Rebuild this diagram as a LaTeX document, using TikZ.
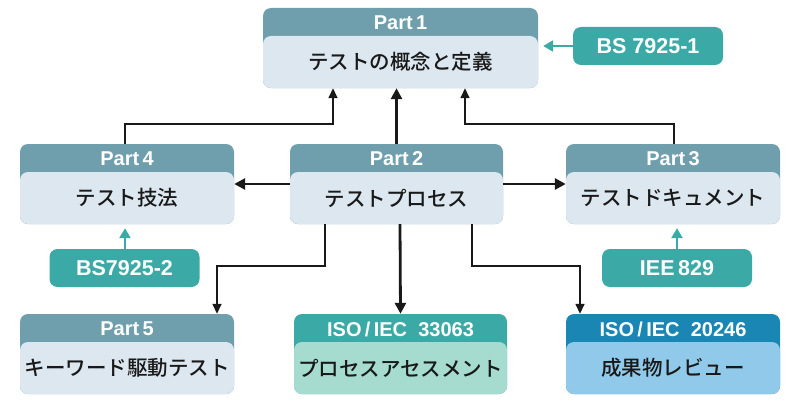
\documentclass[tikz,border=0pt]{standalone}
\usepackage{fontspec}
\setmainfont{Liberation Sans}
\newfontfamily\jp{Noto Sans CJK JP Medium}
\usetikzlibrary{arrows.meta}
\definecolor{hdr}{HTML}{6F9EAC}
\definecolor{bdy}{HTML}{DCE7F0}
\definecolor{tl}{HTML}{3BA9A6}
\definecolor{tlb}{HTML}{A6DCD0}
\definecolor{bl}{HTML}{1A86B4}
\definecolor{blb}{HTML}{90C9E9}
\tikzset{
  outerbox/.style={rounded corners=8pt, inner sep=0pt, minimum height=80pt},
  bodybox/.style={rounded corners=8pt, inner sep=0pt, minimum height=52pt, font=\jp\fontsize{20.5}{23}\selectfont, text=black!90},
  hdrtext/.style={inner sep=0pt, text=white, font=\bfseries\fontsize{20}{22}\selectfont},
  stdbox/.style={fill=tl, rounded corners=8pt, inner sep=0pt, minimum width=150pt, minimum height=38pt, text=white, font=\bfseries\fontsize{21.5}{24}\selectfont},
  thickarr/.style={line width=2.8pt, black!90, -{Triangle[length=11pt,width=11pt]}},
  thinarr/.style={line width=1.5pt, black!90, -{Triangle[length=10pt,width=9pt]}},
  stdarr/.style={line width=2.4pt, tl, -{Triangle[length=10pt,width=11pt]}},
}
\newcommand\pbox[8]{%
  \node[outerbox, fill=#5, minimum width=#4pt] (#1) at (#2,#3+40) {};
  \node[bodybox, fill=#6, minimum width=#4pt] (#1b) at (#2,#3+54) {#8};
  \node[hdrtext] (#1h) at (#2,#3+15) {#7};
}
\begin{document}
\begin{tikzpicture}[x=1pt,y=-1pt]
\useasboundingbox (0,0) rectangle (800,404);
\pbox{p1}{400.5}{8}{275}{hdr}{bdy}{Part\,1}{テストの概念と定義}
\pbox{p4}{127}{144}{214}{hdr}{bdy}{Part\,4}{テスト技法}
\pbox{p2}{396.5}{144}{213}{hdr}{bdy}{Part\,2}{テストプロセス}
\pbox{p3}{673}{144}{214}{hdr}{bdy}{Part\,3}{テストドキュメント}
\pbox{p5}{127}{314}{214}{hdr}{bdy}{Part\,5}{キーワード駆動テスト}
\pbox{i1}{400.5}{314}{213}{tl}{tlb}{ISO\,/\,IEC\ \ 33063}{プロセスアセスメント}
\pbox{i2}{673}{314}{214}{bl}{blb}{ISO\,/\,IEC\ \ 20246}{成果物レビュー}
\node[stdbox] (s1) at (648,46) {BS 7925-1};
\node[stdbox] (s2) at (124.5,268) {BS7925-2};
\node[stdbox] (s3) at (677,268) {IEE\,829};
\coordinate (j4) at (125,124);
\coordinate (j3) at (674,124);
\coordinate (j5) at (325,266);
\coordinate (j6) at (472,266);
% to Part 1
\draw[thinarr] ([xshift=-2pt]p4.north) |- (j4) -| ([xshift=-67.5pt]p1.south);
\draw[thinarr] ([xshift=1pt]p3.north) |- (j3) -| ([xshift=64.5pt]p1.south);
\draw[thickarr] (p2.north) -- (p2.north |- p1.south);
% from Part 2
\draw[thickarr] (p2.west) -- (p4.east);
\draw[thickarr] (p2.east) -- (p3.west);
\draw[thickarr] ([xshift=3.5pt]p2.south) -- ([xshift=0pt]i1.north);
\draw[thinarr] ([xshift=-71.5pt]p2.south) |- (j5) -| ([xshift=90pt]p5.north);
\draw[thinarr] ([xshift=75.5pt]p2.south) |- (j6) -| ([xshift=-93pt]i2.north);
% standards
\draw[stdarr] (s1.west) -- ([xshift=5pt]p1.east |- s1.west);
\draw[stdarr] ([xshift=0.5pt]s2.north) -- ([xshift=0.5pt,yshift=-4pt]s2.north |- p4.south);
\draw[stdarr] (s3.north) -- ([yshift=-4pt]s3.north |- p3.south);
\end{tikzpicture}
\end{document}
